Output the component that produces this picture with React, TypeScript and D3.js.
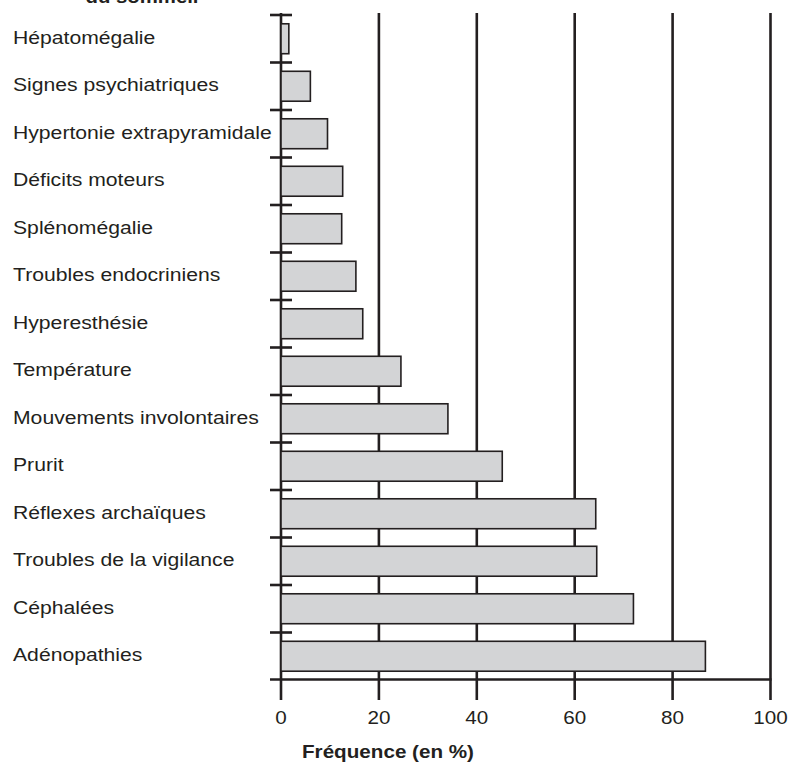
import React from "react";
import * as d3 from "d3";

const categories = [
  "Hépatomégalie",
  "Signes psychiatriques",
  "Hypertonie extrapyramidale",
  "Déficits moteurs",
  "Splénomégalie",
  "Troubles endocriniens",
  "Hyperesthésie",
  "Température",
  "Mouvements involontaires",
  "Prurit",
  "Réflexes archaïques",
  "Troubles de la vigilance",
  "Céphalées",
  "Adénopathies",
];
const values = [1.6, 6.0, 9.5, 12.6, 12.4, 15.3, 16.7, 24.5, 34.1, 45.2, 64.3, 64.5, 72.0, 86.7];
const xTicks = [0, 20, 40, 60, 80, 100];
const titleText = "du sommeil";
const xAxisTitle = "Fréquence (en %)";

const W = 790;
const H = 762;
const FONT = "'Liberation Sans', Arial, Helvetica, sans-serif";
const INK = "#231f20";

export default function App() {
  const x = d3.scaleLinear().domain([0, 100]).range([281, 770.5]);
  const y = d3.scaleBand<string>().domain(categories).range([15, 680]).paddingInner(0.37).paddingOuter(0.185);
  const step = y.step();
  const y0 = 15;
  const axisY = 679.5;
  const gridTop = 13;
  const gridBottom = 700;
  const sx = 1.21;

  return (
    <svg width={W} height={H} style={{ position: "absolute", left: 0, top: 0, background: "#fff" }}>
      <rect width={W} height={H} fill="#fff" />
      {/* cut-off title */}
      <text transform={`translate(142,2.5) scale(1.1,1)`} textAnchor="middle" fontFamily={FONT} fontWeight="bold" fontSize={18.5} fill={INK}>
        {titleText}
      </text>
      {/* vertical gridlines */}
      {xTicks.map((t) => (
        <line key={"g" + t} x1={x(t)} x2={x(t)} y1={gridTop} y2={gridBottom} stroke={INK} strokeWidth={2.6} />
      ))}
      {/* bars */}
      {categories.map((c, i) => (
        <rect
          key={c}
          x={x(0)}
          y={y(c)}
          width={x(values[i]) - x(0)}
          height={y.bandwidth()}
          fill="#d3d4d6"
          stroke={INK}
          strokeWidth={1.6}
        />
      ))}
      {/* category ticks */}
      {categories.map((c, i) => (
        <line key={"t" + c} x1={270} x2={292} y1={y0 + i * step} y2={y0 + i * step} stroke={INK} strokeWidth={2.6} />
      ))}
      {/* bottom axis */}
      <line x1={270} x2={x(100) + 1} y1={axisY} y2={axisY} stroke={INK} strokeWidth={2.6} />
      {/* category labels */}
      {categories.map((c) => (
        <text
          key={"l" + c}
          transform={`translate(13,${(y(c) as number) + y.bandwidth() / 2 + 5}) scale(${sx},1)`}
          fontFamily={FONT}
          fontSize={17.5}
          fill={INK}
        >
          {c}
        </text>
      ))}
      {/* x tick labels */}
      {xTicks.map((t) => (
        <text
          key={"xl" + t}
          transform={`translate(${x(t)},724) scale(1.18,1)`}
          textAnchor="middle"
          fontFamily={FONT}
          fontSize={17.5}
          fill={INK}
        >
          {t}
        </text>
      ))}
      <text transform={`translate(388,758) scale(1.18,1)`} textAnchor="middle" fontFamily={FONT} fontWeight="bold" fontSize={17.5} fill={INK}>
        {xAxisTitle}
      </text>
    </svg>
  );
}
